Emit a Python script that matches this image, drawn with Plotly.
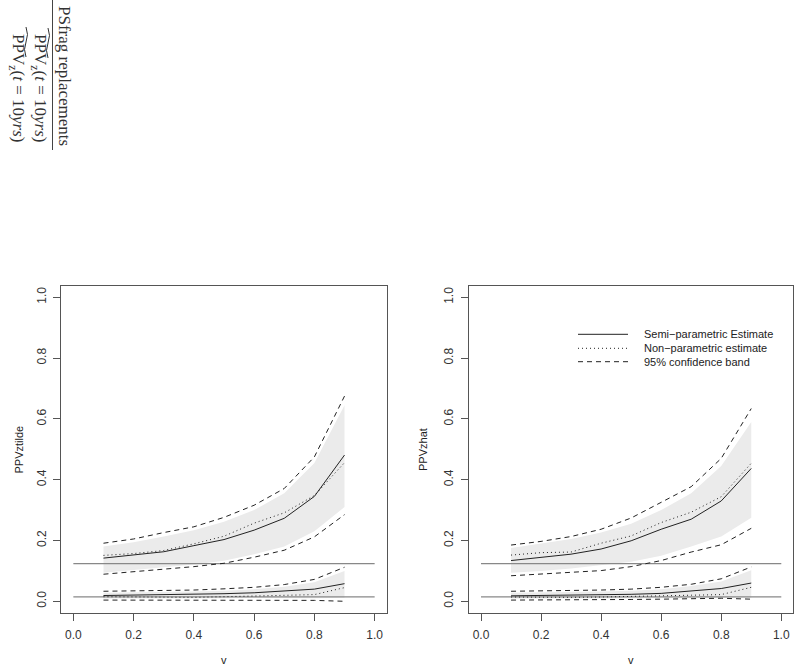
import plotly.graph_objects as go

W, H = 800, 671

v = [0.1, 0.2, 0.3, 0.4, 0.5, 0.6, 0.7, 0.8, 0.9]
hlines = [0.124, 0.0143]
x_ticks = [0.0, 0.2, 0.4, 0.6, 0.8, 1.0]
y_ticks = [0.0, 0.2, 0.4, 0.6, 0.8, 1.0]
tick_labels = ["0.0", "0.2", "0.4", "0.6", "0.8", "1.0"]

# ---- left panel (PPVztilde) ----
semi_hi_L = [0.142, 0.152, 0.163, 0.183, 0.203, 0.234, 0.273, 0.345, 0.481]
nonpar_hi_L = [0.151, 0.157, 0.167, 0.189, 0.214, 0.257, 0.291, 0.348, 0.456]
ci_up_hi_L = [0.191, 0.205, 0.226, 0.245, 0.276, 0.316, 0.371, 0.475, 0.675]
ci_dn_hi_L = [0.089, 0.097, 0.105, 0.114, 0.125, 0.145, 0.168, 0.212, 0.285]
band_top_hi_L = [0.180, 0.194, 0.213, 0.234, 0.262, 0.300, 0.355, 0.455, 0.645]
band_bot_hi_L = [0.094, 0.103, 0.112, 0.121, 0.133, 0.155, 0.180, 0.230, 0.310]

semi_lo_L = [0.019, 0.020, 0.021, 0.022, 0.025, 0.028, 0.033, 0.040, 0.058]
nonpar_lo_L = [0.015, 0.014, 0.013, 0.013, 0.015, 0.018, 0.021, 0.022, 0.045]
ci_up_lo_L = [0.033, 0.034, 0.035, 0.037, 0.041, 0.046, 0.055, 0.072, 0.112]
ci_dn_lo_L = [0.004, 0.004, 0.005, 0.005, 0.005, 0.005, 0.005, 0.003, 0.000]
band_top_lo_L = [0.028, 0.029, 0.030, 0.032, 0.035, 0.040, 0.048, 0.063, 0.100]
band_bot_lo_L = [0.009, 0.009, 0.009, 0.010, 0.010, 0.011, 0.011, 0.010, 0.012]

# ---- right panel (PPVzhat) ----
semi_hi_R = [0.134, 0.144, 0.155, 0.172, 0.199, 0.237, 0.270, 0.330, 0.437]
nonpar_hi_R = [0.152, 0.160, 0.162, 0.191, 0.215, 0.259, 0.293, 0.344, 0.454]
ci_up_hi_R = [0.185, 0.197, 0.213, 0.237, 0.274, 0.325, 0.377, 0.470, 0.634]
ci_dn_hi_R = [0.084, 0.089, 0.094, 0.101, 0.114, 0.134, 0.162, 0.186, 0.240]
band_top_hi_R = [0.175, 0.190, 0.205, 0.226, 0.255, 0.300, 0.355, 0.445, 0.590]
band_bot_hi_R = [0.094, 0.100, 0.108, 0.118, 0.130, 0.150, 0.180, 0.213, 0.275]

semi_lo_R = [0.018, 0.019, 0.020, 0.021, 0.023, 0.026, 0.033, 0.042, 0.060]
nonpar_lo_R = [0.014, 0.013, 0.013, 0.014, 0.015, 0.018, 0.020, 0.022, 0.046]
ci_up_lo_R = [0.033, 0.034, 0.035, 0.037, 0.040, 0.046, 0.056, 0.074, 0.113]
ci_dn_lo_R = [0.004, 0.004, 0.005, 0.005, 0.006, 0.007, 0.008, 0.010, 0.007]
band_top_lo_R = [0.028, 0.029, 0.030, 0.032, 0.035, 0.040, 0.050, 0.065, 0.102]
band_bot_lo_R = [0.009, 0.009, 0.009, 0.010, 0.010, 0.011, 0.011, 0.011, 0.012]

legend_labels = ["Semi\u2212parametric Estimate", "Non\u2212parametric estimate", "95% confidence band"]

LINE = "#222222"
BAND = "#ebebeb"
HL = "#888888"
AX = "#555555"
SANS = "Liberation Sans, Arial, sans-serif"
SERIF = "Liberation Serif, Times New Roman, serif"
SOLID, DOT, DASH = "solid", "1px,3px", "5px,4px"


def px(x):
    return x / W


def py(y):
    return 1 - y / H


fig = go.Figure()


def add_panel(xa, ya, groups):
    for g in groups:
        semi, nonpar, ci_up, ci_dn, btop, bbot = g
        fig.add_trace(go.Scatter(x=v + v[::-1], y=btop + bbot[::-1], fill="toself",
                                 fillcolor=BAND, line=dict(width=0), mode="lines",
                                 hoverinfo="skip", showlegend=False, xaxis=xa, yaxis=ya))
    for h in hlines:
        fig.add_trace(go.Scatter(x=[0, 1], y=[h, h], mode="lines",
                                 line=dict(color=HL, width=1.3), showlegend=False,
                                 xaxis=xa, yaxis=ya))
    for g in groups:
        semi, nonpar, ci_up, ci_dn, btop, bbot = g
        for ys, dash in [(semi, SOLID), (nonpar, DOT), (ci_up, DASH), (ci_dn, DASH)]:
            fig.add_trace(go.Scatter(x=v, y=ys, mode="lines",
                                     line=dict(color=LINE, width=1, dash=dash),
                                     showlegend=False, xaxis=xa, yaxis=ya))


add_panel("x", "y", [
    (semi_hi_L, nonpar_hi_L, ci_up_hi_L, ci_dn_hi_L, band_top_hi_L, band_bot_hi_L),
    (semi_lo_L, nonpar_lo_L, ci_up_lo_L, ci_dn_lo_L, band_top_lo_L, band_bot_lo_L),
])
add_panel("x2", "y2", [
    (semi_hi_R, nonpar_hi_R, ci_up_hi_R, ci_dn_hi_R, band_top_hi_R, band_bot_hi_R),
    (semi_lo_R, nonpar_lo_R, ci_up_lo_R, ci_dn_lo_R, band_top_lo_R, band_bot_lo_R),
])

ydom = [py(613.0), py(285.7)]
axis_common = dict(showline=True, mirror=True, linecolor=AX, linewidth=1,
                   ticks="outside", ticklen=7, tickcolor=AX, tickwidth=1,
                   showgrid=False, zeroline=False,
                   tickfont=dict(family=SANS, size=12, color="#333333"))
fig.update_layout(
    width=W, height=H, autosize=False,
    margin=dict(l=0, r=0, t=0, b=0),
    paper_bgcolor="white", plot_bgcolor="white",
    showlegend=False,
    xaxis=dict(domain=[px(61.3), px(386.7)], range=[-0.04, 1.04], ticklabelstandoff=4,
               tickvals=x_ticks, ticktext=tick_labels, anchor="y", **axis_common),
    yaxis=dict(domain=ydom, range=[-0.0385, 1.038], tickvals=y_ticks, ticklabelstandoff=3,
               ticktext=tick_labels, tickangle=-90, anchor="x", **axis_common),
    xaxis2=dict(domain=[px(469), px(793.3)], range=[-0.04, 1.04], ticklabelstandoff=4,
                tickvals=x_ticks, ticktext=tick_labels, anchor="y2", **axis_common),
    yaxis2=dict(domain=ydom, range=[-0.0385, 1.038], tickvals=y_ticks, ticklabelstandoff=3,
                ticktext=tick_labels, tickangle=-90, anchor="x2", **axis_common),
)

ann = []
# axis titles
ann.append(dict(text="PPVztilde", x=px(18.5), y=py(450), textangle=-90))
ann.append(dict(text="PPVzhat", x=px(423), y=py(450), textangle=-90))
ann.append(dict(text="v", x=px(223.7), y=py(660), textangle=0))
ann.append(dict(text="v", x=px(631.3), y=py(660), textangle=0))
for a in ann:
    a.update(xref="paper", yref="paper", showarrow=False, xanchor="center",
             yanchor="middle", font=dict(family=SANS, size=11, color="#222222"))

# legend (right panel)
shapes = []
leg_rows = [334.3, 348.3, 361.7]
for row, lab, dash in zip(leg_rows, legend_labels, [SOLID, DOT, DASH]):
    shapes.append(dict(type="line", xref="paper", yref="paper",
                       x0=px(578), x1=px(628), y0=py(row), y1=py(row),
                       line=dict(color=LINE, width=1, dash=dash)))
    ann.append(dict(text=lab, xref="paper", yref="paper", x=px(642), y=py(row),
                    xanchor="left", yanchor="middle", showarrow=False,
                    font=dict(family=SANS, size=11, color="#222222")))

# PSfrag header (rotated)
ann.append(dict(text="PSfrag replacements", xref="paper", yref="paper",
                x=px(65), y=py(76), textangle=90, showarrow=False,
                xanchor="center", yanchor="middle",
                font=dict(family=SERIF, size=17, color="#333333")))
shapes.append(dict(type="line", xref="paper", yref="paper",
                   x0=px(52.5), x1=px(52.5), y0=py(0), y1=py(150),
                   line=dict(color="#444444", width=1)))
for cx in [39, 17]:
    ann.append(dict(text="PPV<sub>z</sub>(<i>t</i> = 10<i>yrs</i>)",
                    xref="paper", yref="paper", x=px(cx), y=py(88), textangle=90,
                    showarrow=False, xanchor="center", yanchor="middle",
                    font=dict(family=SERIF, size=17, color="#333333")))


def wave(cx, y0, y1, amp):
    ym = (y0 + y1) / 2
    q1 = (y0 + ym) / 2
    q3 = (ym + y1) / 2
    return (f"M {px(cx)},{py(y0)} Q {px(cx + amp)},{py(q1)} {px(cx)},{py(ym)} "
            f"Q {px(cx - amp)},{py(q3)} {px(cx)},{py(y1)}")


shapes.append(dict(type="path", xref="paper", yref="paper", path=wave(48, 28, 58, 3),
                   line=dict(color="#333333", width=1)))
shapes.append(dict(type="path", xref="paper", yref="paper", path=wave(26, 27, 57, 3),
                   line=dict(color="#333333", width=1)))

fig.update_layout(annotations=ann, shapes=shapes)
fig.write_html("out.html", config={"displayModeBar": False},
               post_script="document.body.style.margin='0';document.body.style.overflow='hidden';")
